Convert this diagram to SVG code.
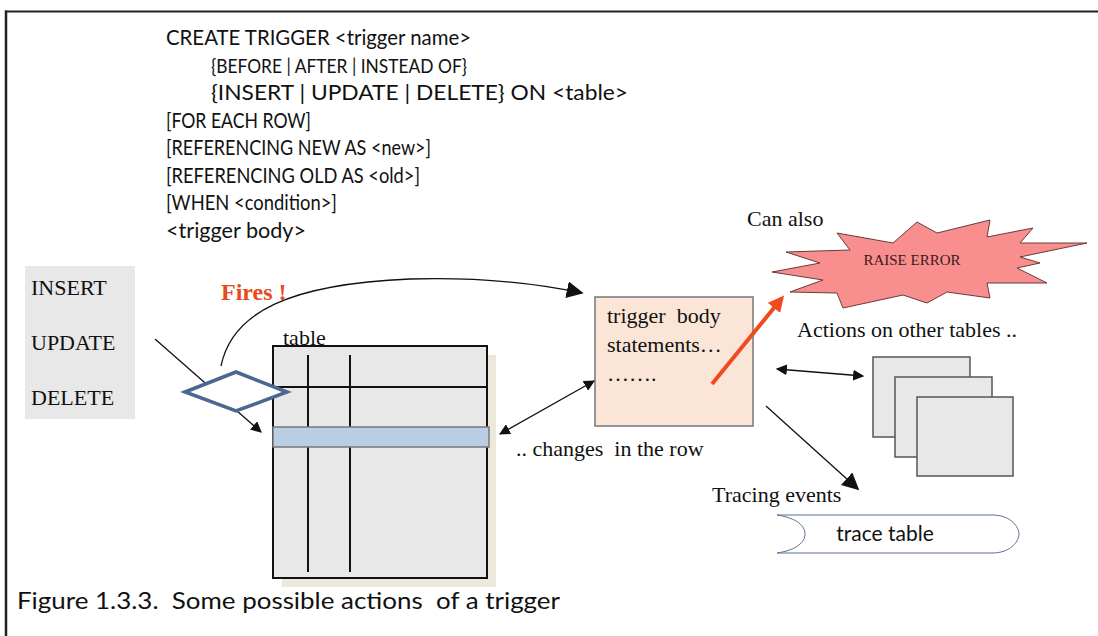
<svg xmlns="http://www.w3.org/2000/svg" width="1098" height="636" viewBox="0 0 1098 636">
  <defs>
    <style>
      .code { font-family: Lato, "Open Sans", "Liberation Sans", sans-serif; font-size: 21px; fill: #111; }
      .serif { font-family: "Liberation Serif", "Times New Roman", serif; font-size: 22px; fill: #111; }
      .conn { fill: none; stroke: #111; stroke-width: 1.3; }
      .grid { stroke: #111; stroke-width: 2; }
    </style>
    <marker id="arrowHead" viewBox="0 0 10 10" refX="9" refY="5" markerWidth="11" markerHeight="11" markerUnits="userSpaceOnUse" orient="auto-start-reverse">
      <path d="M0,0 L10,5 L0,10 z" fill="#111"/>
    </marker>
    <marker id="arrowHeadBig" viewBox="0 0 10 10" refX="9" refY="5" markerWidth="17" markerHeight="17" markerUnits="userSpaceOnUse" orient="auto">
      <path d="M0,0 L10,5 L0,10 z" fill="#111"/>
    </marker>
    <marker id="arrowRed" viewBox="0 0 10 10" refX="8" refY="5" markerWidth="16" markerHeight="16" markerUnits="userSpaceOnUse" orient="auto">
      <path d="M0,0 L10,5 L0,10 z" fill="#f04a1e"/>
    </marker>
  </defs>

  <rect width="1098" height="636" fill="#fff"/>

  <!-- frame -->
  <g id="frame" stroke="#222" fill="none">
    <line x1="5" y1="11.5" x2="1098" y2="11.5" stroke-width="2"/>
    <line x1="6" y1="10.5" x2="6" y2="636" stroke-width="2.5"/>
  </g>

  <!-- trigger syntax -->
  <g id="syntax" class="code">
    <text x="166" y="45" textLength="305" lengthAdjust="spacingAndGlyphs">CREATE TRIGGER &lt;trigger name&gt;</text>
    <text x="211" y="72.5" font-size="20" textLength="256" lengthAdjust="spacingAndGlyphs">{BEFORE | AFTER | INSTEAD OF}</text>
    <text x="211" y="100" font-size="22" textLength="417" lengthAdjust="spacingAndGlyphs">{INSERT | UPDATE | DELETE} ON &lt;table&gt;</text>
    <text x="166" y="127.5" textLength="145" lengthAdjust="spacingAndGlyphs">[FOR EACH ROW]</text>
    <text x="166" y="155" textLength="265" lengthAdjust="spacingAndGlyphs">[REFERENCING NEW AS &lt;new&gt;]</text>
    <text x="166" y="182.5" textLength="254" lengthAdjust="spacingAndGlyphs">[REFERENCING OLD AS &lt;old&gt;]</text>
    <text x="166" y="210" textLength="171" lengthAdjust="spacingAndGlyphs">[WHEN &lt;condition&gt;]</text>
    <text x="166" y="237.5" textLength="140" lengthAdjust="spacingAndGlyphs">&lt;trigger body&gt;</text>
  </g>

  <!-- DML events -->
  <g id="events">
    <rect x="25" y="266" width="110" height="153" fill="#e8e8e8"/>
    <text class="serif" x="31" y="295">INSERT</text>
    <text class="serif" x="31" y="350">UPDATE</text>
    <text class="serif" x="31" y="405">DELETE</text>
  </g>

  <!-- table with selected row -->
  <g id="table">
    <rect x="282" y="355" width="214" height="232" fill="#ece9dc"/>
    <rect x="273" y="346" width="214" height="232" fill="#e8e8e8" stroke="#111" stroke-width="2"/>
    <line class="grid" x1="273" y1="387" x2="487" y2="387"/>
    <line class="grid" x1="308" y1="355" x2="308" y2="427"/>
    <line class="grid" x1="350" y1="355" x2="350" y2="427"/>
    <line class="grid" x1="308" y1="447" x2="308" y2="572"/>
    <line class="grid" x1="350" y1="447" x2="350" y2="572"/>
    <rect x="273" y="427" width="216" height="20" fill="#b9cde4" stroke="#777" stroke-width="1.5"/>
    <text class="serif" x="283" y="345">table</text>
  </g>

  <!-- trigger body -->
  <g id="trigger-body">
    <rect x="595" y="297" width="158" height="129" fill="#fbe5d6" stroke="#777" stroke-width="1.5"/>
    <text class="serif" x="607" y="323" xml:space="preserve">trigger  body</text>
    <text class="serif" x="607" y="352">statements…</text>
    <text class="serif" x="607" y="381">…….</text>
  </g>

  <text id="row-label" class="serif" x="516" y="456" xml:space="preserve">.. changes  in the row</text>

  <!-- raise error -->
  <g id="raise-error">
    <text class="serif" x="747" y="226">Can also</text>
    <polygon points="837,233 893,243 917,222 937,233 990,220 987,237 1033,228 1020,243 1087,243 1020,257 1040,263 1017,268 1047,283 987,283 990,298 947,292 927,303 903,295 843,308 837,293 790,292 823,280 772,272 820,263 786,252 850,250" fill="#f98e8e" stroke="#6b3a3a" stroke-width="1"/>
    <text x="912" y="265" text-anchor="middle" font-family="'Liberation Serif', 'Times New Roman', serif" font-size="15" fill="#3a1a1a">RAISE ERROR</text>
  </g>

  <!-- other tables -->
  <g id="other-tables">
    <text class="serif" x="797" y="337">Actions on other tables ..</text>
    <rect x="873" y="357" width="97" height="80" fill="#e8e8e8" stroke="#555" stroke-width="1.5"/>
    <rect x="895" y="377" width="97" height="80" fill="#e8e8e8" stroke="#555" stroke-width="1.5"/>
    <rect x="917" y="397" width="96" height="79" fill="#e8e8e8" stroke="#555" stroke-width="1.5"/>
  </g>

  <!-- trace table -->
  <g id="trace-table">
    <text class="serif" x="712" y="502">Tracing events</text>
    <path d="M777,515 L992,515 C1012,515 1019,528 1019,534 C1019,540 1012,553 992,553 L777,553 C797,550 805,542 805,534 C805,526 797,518 777,515 Z" fill="#fff" stroke="#5a7393" stroke-width="1"/>
    <text x="885" y="541" text-anchor="middle" font-family="Lato, 'Open Sans', 'Liberation Sans', sans-serif" font-size="21" fill="#111">trace table</text>
  </g>

  <!-- connectors -->
  <g id="connectors">
    <line class="conn" x1="155" y1="339" x2="261" y2="432" marker-end="url(#arrowHead)"/>
    <path class="conn" d="M221,366 C232,312 290,284 410,279 C480,277 540,284 582,293" marker-end="url(#arrowHeadBig)"/>
    <line class="conn" x1="500" y1="434" x2="594" y2="381" marker-start="url(#arrowHead)" marker-end="url(#arrowHead)"/>
    <line class="conn" x1="777" y1="369" x2="863" y2="376" marker-start="url(#arrowHead)" marker-end="url(#arrowHead)"/>
    <line class="conn" x1="766" y1="406" x2="858" y2="489" marker-end="url(#arrowHeadBig)"/>
    <line x1="712" y1="384" x2="782" y2="298" stroke="#f04a1e" stroke-width="4" marker-end="url(#arrowRed)"/>
  </g>

  <!-- trigger condition (sits over the incoming event line) -->
  <g id="condition">
    <polygon points="185,392 236,372 287,392 236,411" fill="#fff" stroke="#4a6890" stroke-width="3.5"/>
    <text x="221" y="300" font-family="'Liberation Serif', 'Times New Roman', serif" font-size="24" font-weight="bold" fill="#e8491d" xml:space="preserve">Fires !</text>
  </g>

  <!-- caption -->
  <text id="caption" x="17" y="609" font-family="Lato, 'Open Sans', 'Liberation Sans', sans-serif" font-size="23" fill="#111" xml:space="preserve" textLength="543" lengthAdjust="spacingAndGlyphs">Figure 1.3.3.  Some possible actions  of a trigger</text>
</svg>
